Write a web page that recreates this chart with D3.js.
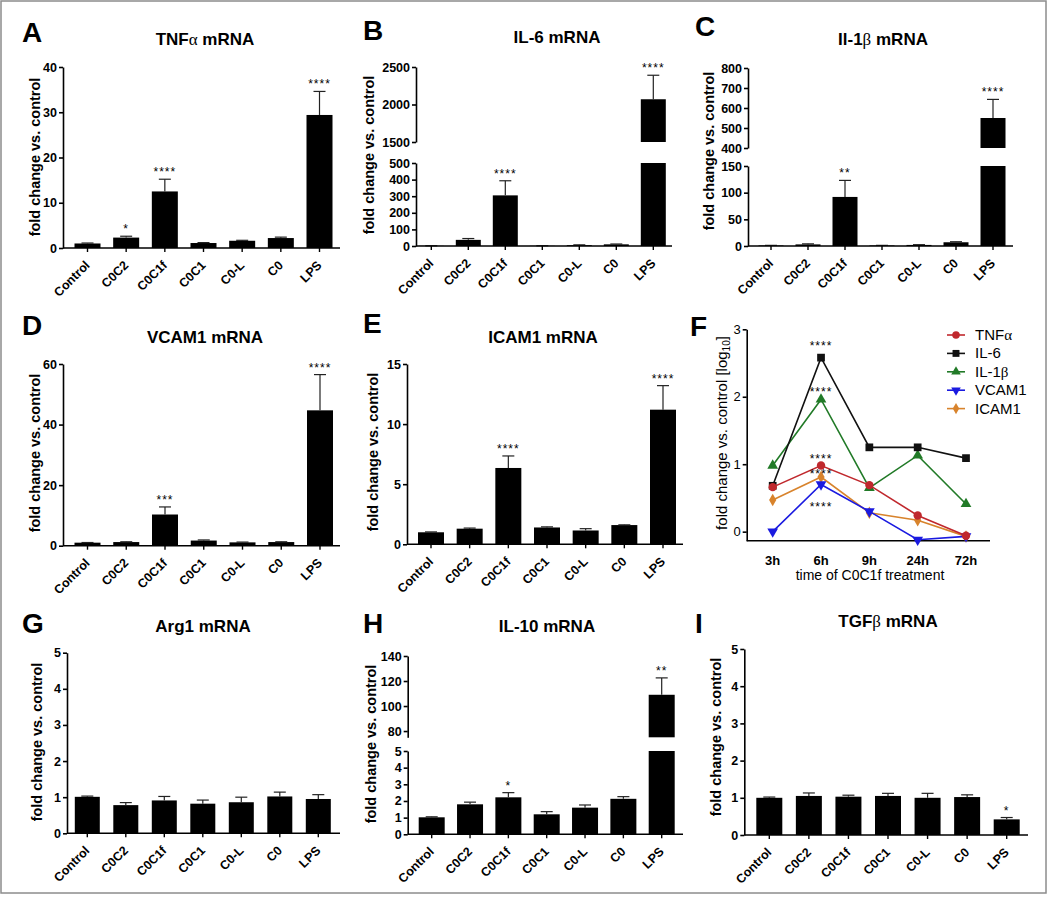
<!DOCTYPE html>
<html>
<head>
<meta charset="utf-8">
<script src="https://cdnjs.cloudflare.com/ajax/libs/d3/7.8.5/d3.min.js"></script>
<style>
  body { margin: 0; background: #fff; }
  svg text { font-family: "Liberation Sans", Arial, sans-serif; fill: #000; }
  .greek { font-family: "Liberation Serif", "DejaVu Serif", serif; font-weight: normal; }
</style>
</head>
<body>
<div id="chart"></div>
<script>
// ---- data ----
const categories = ["Control", "C0C2", "C0C1f", "C0C1", "C0-L", "C0", "LPS"];

// bar heights (mean) and top of the error bar for each gene
const tnfMean = [1.0, 2.3, 12.5, 1.1, 1.6, 2.2, 29.4];
const tnfErr  = [1.1, 2.6, 15.2, 1.2, 1.7, 2.4, 34.6];
const tnfStars = ["", "*", "****", "", "", "", "****"];

const il6Mean = [1, 37, 305, 1, 5, 10, 2070];
const il6Err  = [1.5, 45, 393, 1.5, 7, 12, 2390];
const il6Stars = ["", "", "****", "", "", "", "****"];

const il1bMean = [1, 3, 92, 1, 2, 7, 550];
const il1bErr  = [1.2, 4, 123, 1.2, 2.5, 8, 643];
const il1bStars = ["", "", "**", "", "", "", "****"];

const vcamMean = [1.0, 1.2, 10.3, 1.7, 1.1, 1.2, 44.7];
const vcamErr  = [1.05, 1.3, 12.8, 1.9, 1.2, 1.3, 56.5];
const vcamStars = ["", "", "***", "", "", "", "****"];

const icamMean = [1.0, 1.3, 6.35, 1.4, 1.15, 1.6, 11.2];
const icamErr  = [1.03, 1.35, 7.35, 1.45, 1.3, 1.62, 13.2];
const icamStars = ["", "", "****", "", "", "", "****"];

const arg1Mean = [1.01, 0.78, 0.91, 0.82, 0.86, 1.02, 0.95];
const arg1Err  = [1.03, 0.85, 1.02, 0.92, 1.0, 1.14, 1.07];
const arg1Stars = ["", "", "", "", "", "", ""];

const il10Mean = [1.02, 1.8, 2.22, 1.2, 1.6, 2.13, 109];
const il10Err  = [1.05, 1.93, 2.5, 1.36, 1.76, 2.26, 122.5];
const il10Stars = ["", "", "*", "", "", "", "**"];

const tgfMean = [1.0, 1.05, 1.03, 1.05, 1.0, 1.02, 0.42];
const tgfErr  = [1.02, 1.13, 1.07, 1.12, 1.12, 1.08, 0.47];
const tgfStars = ["", "", "", "", "", "", "*"];

// time course (log10 fold change)
const timePoints = ["3h", "6h", "9h", "24h", "72h"];
const tcNames = ["TNFα", "IL-6", "IL-1β", "VCAM1", "ICAM1"];
const tcTNF   = [0.66, 0.98, 0.69, 0.24, -0.06];
const tcIL6   = [0.68, 2.58, 1.25, 1.25, 1.09];
const tcIL1b  = [0.98, 1.96, 0.65, 1.13, 0.41];
const tcVCAM1 = [0.0, 0.70, 0.30, -0.12, -0.07];
const tcICAM1 = [0.47, 0.81, 0.28, 0.17, -0.07];
const tcStarLevels = [1.11, 2.78, 2.1, 0.4, 0.89]; // where the 6h stars sit (log10)

// ---- drawing ----
const W = 1050, H = 903;
const svg = d3.select("#chart").append("svg")
  .attr("width", W)
  .attr("height", H);

svg.append("rect")
  .attr("x", 1).attr("y", 1)
  .attr("width", 1045).attr("height", 892)
  .attr("fill", "none")
  .attr("stroke", "#8c8c8c")
  .attr("stroke-width", 1.5);

// writes a string into a text node, greek letters in a serif face
function richText(sel, str) {
  const parts = str.match(/[αβ]|[^αβ]+/g);
  parts.forEach(p => {
    const t = sel.append("tspan").text(p);
    if (/[αβ]/.test(p)) t.attr("class", "greek");
  });
  return sel;
}

const panels = [
  {letter: "A", lx: 22, ly: 42, title: "TNFα mRNA", tx: 205, ty: 45, ax: 63, xEnd: 340, y0: 248,
   c0: 87.5, c1: 319.5, bw: 26, ylx: 35, yly: 157,
   segs: [{dom: [0, 40], rng: [248, 67], ticks: [0, 10, 20, 30, 40]}],
   mean: tnfMean, err: tnfErr, stars: tnfStars},
  {letter: "B", lx: 363, ly: 40, title: "IL-6 mRNA", tx: 557, ty: 43, ax: 416, xEnd: 672, y0: 246,
   c0: 431.3, c1: 653.3, bw: 25, ylx: 369, yly: 155,
   segs: [{dom: [0, 500], rng: [246, 163], ticks: [0, 100, 200, 300, 400, 500]},
          {dom: [1500, 2500], rng: [142, 67], ticks: [1500, 2000, 2500]}],
   mean: il6Mean, err: il6Err, stars: il6Stars},
  {letter: "C", lx: 695, ly: 36, title: "Il-1β mRNA", tx: 883, ty: 45, ax: 748, xEnd: 1013, y0: 246,
   c0: 771, c1: 993, bw: 25, ylx: 709, yly: 151,
   segs: [{dom: [0, 150], rng: [246, 166], ticks: [0, 50, 100, 150]},
          {dom: [400, 800], rng: [148, 68], ticks: [400, 500, 600, 700, 800]}],
   mean: il1bMean, err: il1bErr, stars: il1bStars},
  {letter: "D", lx: 22, ly: 335, title: "VCAM1 mRNA", tx: 205, ty: 343, ax: 63, xEnd: 340, y0: 545.7,
   c0: 87.5, c1: 320, bw: 26, ylx: 35, yly: 453,
   segs: [{dom: [0, 60], rng: [545.7, 364], ticks: [0, 20, 40, 60]}],
   mean: vcamMean, err: vcamErr, stars: vcamStars},
  {letter: "E", lx: 363, ly: 333, title: "ICAM1 mRNA", tx: 543, ty: 343, ax: 407, xEnd: 683, y0: 544.3,
   c0: 431, c1: 663, bw: 26, ylx: 373, yly: 452,
   segs: [{dom: [0, 15], rng: [544.3, 364], ticks: [0, 5, 10, 15]}],
   mean: icamMean, err: icamErr, stars: icamStars},
  {letter: "G", lx: 22, ly: 633, title: "Arg1 mRNA", tx: 203, ty: 632, ax: 67, xEnd: 340, y0: 833.3,
   c0: 87.3, c1: 318.3, bw: 25, ylx: 37, yly: 742,
   segs: [{dom: [0, 5], rng: [833.3, 652.7], ticks: [0, 1, 2, 3, 4, 5]}],
   mean: arg1Mean, err: arg1Err, stars: arg1Stars},
  {letter: "H", lx: 363, ly: 633, title: "IL-10 mRNA", tx: 547, ty: 632, ax: 407.7, xEnd: 683, y0: 834.3,
   c0: 431.7, c1: 661.7, bw: 26, ylx: 371, yly: 744,
   segs: [{dom: [0, 5], rng: [834.3, 751], ticks: [0, 1, 2, 3, 4, 5]},
          {dom: [75, 140], rng: [737.3, 656], ticks: [80, 100, 120, 140]}],
   mean: il10Mean, err: il10Err, stars: il10Stars},
  {letter: "I", lx: 695, ly: 633, title: "TGFβ mRNA", tx: 888, ty: 627, ax: 744.3, xEnd: 1028, y0: 835,
   c0: 769.3, c1: 1006.7, bw: 26, ylx: 716, yly: 737,
   segs: [{dom: [0, 5], rng: [835, 649], ticks: [0, 1, 2, 3, 4, 5]}],
   mean: tgfMean, err: tgfErr, stars: tgfStars}
];

function letterAndTitle(g, p) {
  g.append("text")
    .attr("x", p.lx).attr("y", p.ly)
    .attr("font-size", 28).attr("font-weight", "bold")
    .text(p.letter);
  if (p.title) {
    richText(g.append("text")
      .attr("x", p.tx).attr("y", p.ty)
      .attr("text-anchor", "middle")
      .attr("font-size", 17).attr("font-weight", "bold"), p.title);
  }
}

function barPanel(p) {
  const g = svg.append("g");
  letterAndTitle(g, p);

  const step = (p.c1 - p.c0) / (categories.length - 1);
  const pad = 1 - p.bw / step;
  const x = d3.scaleBand()
    .domain(categories)
    .range([p.c0 - step / 2, p.c1 + step / 2])
    .paddingInner(pad)
    .paddingOuter(pad / 2);

  p.segs.forEach(s => { s.scale = d3.scaleLinear().domain(s.dom).range(s.rng); });

  // y axis segments
  p.segs.forEach(s => {
    const ax = g.append("g")
      .attr("transform", `translate(${p.ax},0)`)
      .call(d3.axisLeft(s.scale).tickValues(s.ticks).tickFormat(d3.format("d"))
        .tickSize(4).tickSizeOuter(0).tickPadding(2));
    ax.selectAll("path, line").attr("stroke", "#000").attr("stroke-width", 1.6);
    ax.selectAll("text").attr("font-size", 12.5).attr("font-weight", "bold")
      .attr("font-family", "'Liberation Sans', Arial, sans-serif");
  });

  // bars (split over segments when the axis is broken)
  const rows = categories.map((c, i) => ({c, m: p.mean[i], e: p.err[i], st: p.stars[i]}));
  p.segs.forEach(s => {
    g.selectAll(null)
      .data(rows.filter(d => d.m > s.dom[0]))
      .join("rect")
      .attr("x", d => x(d.c))
      .attr("width", x.bandwidth())
      .attr("y", d => s.scale(Math.min(d.m, s.dom[1])))
      .attr("height", d => s.scale(s.dom[0]) - s.scale(Math.min(d.m, s.dom[1])))
      .attr("fill", "#000");
  });

  // error bars (upper whisker only)
  const segOf = v => p.segs.find(s => v >= s.dom[0] && v <= s.dom[1]) || p.segs[0];
  const capW = 12;
  rows.forEach(d => {
    const s = segOf(d.m);
    const cx = x(d.c) + x.bandwidth() / 2;
    const yTop = s.scale(d.e);
    g.append("line")
      .attr("x1", cx).attr("x2", cx)
      .attr("y1", s.scale(d.m)).attr("y2", yTop)
      .attr("stroke", "#222").attr("stroke-width", 1.2);
    g.append("line")
      .attr("x1", cx - capW / 2).attr("x2", cx + capW / 2)
      .attr("y1", yTop).attr("y2", yTop)
      .attr("stroke", "#222").attr("stroke-width", 1.2);
    if (d.st) {
      g.append("text")
        .attr("x", cx).attr("y", yTop - 3)
        .attr("text-anchor", "middle")
        .attr("font-size", 12)
        .attr("letter-spacing", 1)
        .attr("fill", "#333")
        .text(d.st);
    }
  });

  // x axis
  g.append("line")
    .attr("x1", p.ax).attr("x2", p.xEnd)
    .attr("y1", p.y0).attr("y2", p.y0)
    .attr("stroke", "#000").attr("stroke-width", 1.6);
  g.selectAll(null)
    .data(categories)
    .join("line")
    .attr("x1", d => x(d) + x.bandwidth() / 2)
    .attr("x2", d => x(d) + x.bandwidth() / 2)
    .attr("y1", p.y0).attr("y2", p.y0 + 4)
    .attr("stroke", "#000").attr("stroke-width", 1.4);
  g.selectAll(null)
    .data(categories)
    .join("text")
    .attr("transform", d => `translate(${x(d) + x.bandwidth() / 2 + 3},${p.y0 + 18}) rotate(-45)`)
    .attr("text-anchor", "end")
    .attr("font-size", 12.5).attr("font-weight", "bold")
    .text(d => d);

  // y label
  g.append("text")
    .attr("transform", `translate(${p.ylx},${p.yly}) rotate(-90)`)
    .attr("dy", "0.35em")
    .attr("text-anchor", "middle")
    .attr("font-size", 14.5).attr("font-weight", "bold")
    .text("fold change vs. control");
}

panels.forEach(barPanel);

// ---- panel F: time course ----
(function () {
  const g = svg.append("g");
  letterAndTitle(g, {letter: "F", lx: 690, ly: 336});

  const axX = 746.7, axY = 540.7;
  const x = d3.scalePoint().domain(timePoints).range([772.7, 966]);
  const y = d3.scaleLinear().domain([-0.134, 3]).range([axY, 329.3]);

  const yAx = g.append("g")
    .attr("transform", `translate(${axX},0)`)
    .call(d3.axisLeft(y).tickValues([0, 1, 2, 3]).tickFormat(d3.format("d"))
      .tickSize(4).tickSizeOuter(0).tickPadding(2));
  yAx.selectAll("path, line").attr("stroke", "#000").attr("stroke-width", 1.6);
  yAx.selectAll("text").attr("font-size", 13)
    .attr("font-family", "'Liberation Sans', Arial, sans-serif");

  g.append("line")
    .attr("x1", axX).attr("x2", 990)
    .attr("y1", axY).attr("y2", axY)
    .attr("stroke", "#000").attr("stroke-width", 1.6);
  g.selectAll(null)
    .data(timePoints)
    .join("text")
    .attr("x", d => x(d)).attr("y", axY + 24)
    .attr("text-anchor", "middle")
    .attr("font-size", 13).attr("font-weight", "bold")
    .text(d => d);

  g.append("text")
    .attr("x", 870).attr("y", 580)
    .attr("text-anchor", "middle")
    .attr("font-size", 14)
    .text("time of C0C1f treatment");

  const yl = g.append("text")
    .attr("transform", "translate(722,433) rotate(-90)")
    .attr("dy", "0.35em")
    .attr("text-anchor", "middle")
    .attr("font-size", 15);
  yl.append("tspan").text("fold change vs. control [log");
  yl.append("tspan").attr("font-size", 10).attr("dy", 3).text("10");
  yl.append("tspan").attr("dy", -3).text("]");

  const series = [
    {name: tcNames[0], values: tcTNF, color: "#c0282d", sym: d3.symbolCircle, size: 55, rot: 0},
    {name: tcNames[1], values: tcIL6, color: "#111111", sym: d3.symbolSquare, size: 60, rot: 0},
    {name: tcNames[2], values: tcIL1b, color: "#217a27", sym: d3.symbolTriangle, size: 50, rot: 0},
    {name: tcNames[3], values: tcVCAM1, color: "#1a1ae0", sym: d3.symbolTriangle, size: 50, rot: 180},
    {name: tcNames[4], values: tcICAM1, color: "#d8832c", sym: d3.symbolDiamond, size: 45, rot: 0}
  ];
  series.forEach((s, k) => { s.star = tcStarLevels[k]; });

  const line = d3.line().x((d, i) => x(timePoints[i])).y(d => y(d));

  series.slice().reverse().forEach(s => {
    g.append("path")
      .attr("d", line(s.values))
      .attr("fill", "none")
      .attr("stroke", s.color)
      .attr("stroke-width", 1.6);
    g.selectAll(null)
      .data(s.values)
      .join("path")
      .attr("d", d3.symbol(s.sym, s.size))
      .attr("transform", (d, i) => `translate(${x(timePoints[i])},${y(d)}) rotate(${s.rot})`)
      .attr("fill", s.color);
  });

  series.forEach(s => {
    g.append("text")
      .attr("x", x("6h")).attr("y", y(s.star) + 6)
      .attr("text-anchor", "middle")
      .attr("font-size", 12)
      .attr("letter-spacing", 1)
      .attr("fill", s.color)
      .text("****");
  });

  // legend
  const lg = g.append("g");
  series.forEach((s, k) => {
    const ly = 335 + k * 18.4;
    lg.append("line")
      .attr("x1", 947).attr("x2", 965)
      .attr("y1", ly).attr("y2", ly)
      .attr("stroke", s.color).attr("stroke-width", 1.6);
    lg.append("path")
      .attr("d", d3.symbol(s.sym, s.size * 0.8))
      .attr("transform", `translate(956,${ly}) rotate(${s.rot})`)
      .attr("fill", s.color);
    richText(lg.append("text")
      .attr("x", 975).attr("y", ly + 5)
      .attr("font-size", 15), s.name);
  });
})();
</script>
</body>
</html>
